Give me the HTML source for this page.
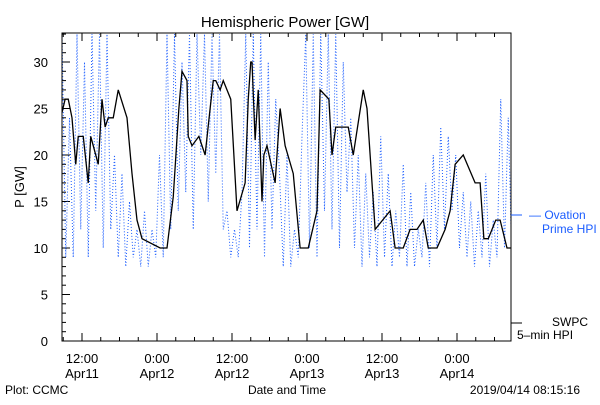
<!DOCTYPE html>
<html><head><meta charset="utf-8"><style>
body{margin:0;background:#fff}
svg text{font-family:"Liberation Sans",sans-serif}
</style></head><body>
<svg width="600" height="400" viewBox="0 0 600 400">
<defs><clipPath id="pc"><rect x="62" y="33" width="449" height="308"/></clipPath></defs>
<rect width="600" height="400" fill="#fff"/>
<text x="285" y="27" font-size="15" text-anchor="middle">Hemispheric Power [GW]</text>
<text transform="translate(24,187) rotate(-90)" font-size="13" text-anchor="middle">P [GW]</text>
<g id="axes"></g>
<g clip-path="url(#pc)"><polyline id="ovation" fill="none" stroke="#1a5cff" stroke-width="1" stroke-dasharray="1,2"/>
<polyline id="swpc" fill="none" stroke="#000" stroke-width="1.3"/></g>
<rect x="62" y="33" width="449" height="308" fill="none" stroke="#000"/>
<line x1="511" y1="215" x2="522" y2="215" stroke="#1a5cff"/>
<text x="529" y="219" font-size="12" fill="#1a5cff">— Ovation</text>
<text x="542" y="233" font-size="12" fill="#1a5cff">Prime HPI</text>
<line x1="511" y1="323" x2="522" y2="323" stroke="#000"/>
<text x="552" y="326" font-size="12">SWPC</text>
<text x="517" y="339" font-size="12">5–min HPI</text>
<text x="5" y="394" font-size="12">Plot: CCMC</text>
<text x="287" y="394" font-size="12" text-anchor="middle">Date and Time</text>
<text x="580" y="394" font-size="12" text-anchor="end">2019/04/14 08:15:16</text>
</svg>
<script>
const yTicks=[0,5,10,15,20,25,30];
const xTickHours=[12,24,36,48,60,72];
const xTickTimes=["12:00","0:00","12:00","0:00","12:00","0:00"];
const xTickDays=["Apr11","Apr12","Apr12","Apr13","Apr13","Apr14"];
const swpcHours=[8.6,9.3,9.8,10.4,11.0,11.4,12.2,13.0,13.4,14.6,15.2,15.7,16.2,17.0,17.8,19.2,20.0,20.8,21.6,24.5,25.6,26.6,27.5,28.0,28.8,29.0,29.6,30.7,31.7,32.5,33.0,33.4,34.1,34.6,35.8,36.8,38.1,38.6,39.0,39.2,39.7,40.2,40.8,41.1,41.6,42.9,43.7,44.5,45.8,46.9,48.2,49.6,50.1,51.5,52.0,52.6,54.6,55.4,57.0,57.6,58.9,61.3,62.1,63.4,64.5,65.6,66.6,67.4,68.8,70.1,70.9,71.7,73.0,74.9,75.7,76.3,77.0,78.2,78.9,80.0,80.6];
const swpcValues=[24,26,26,24,19,22,22,17,22,19,26,23,24,24,27,24,18,13,11,10,10,15.5,25,29,28,22,21,22,20,25,28,28,27,28,26,14,17,26,30,30,21.6,27,15,20,21,17,25,21,18,10,10,14,27,26,20,23,23,20,27,25,12,14,10,10,12,12,13,10,10,12,14,19,20,17,17,11,11,13,13,10,10,14,18];
const ovStartHour=8.8, ovStepHours=0.6;
const ovationValues=[33,9,24,9,33,12,30,9,33,14,33,10,33,12,
20,9,18,8,15,9,12,8,
14,8,12,9,20,9,
33,12,33,14,30,16,33,12,33,20,33,15,33,18,33,12,
14,9,12,9,16,
33,10,33,12,33,9,30,12,26,
18,8,20,8,12,9,22,
33,10,33,9,33,14,33,12,33,10,30,16,24,10,
20,8,18,9,16,8,22,9,18,8,14,9,19,8,16,8,12,9,17,8,20,
10,23,12,22,14,20,10,
16,9,15,8,14,9,18,8,
13,9,26,10,24,8];
const X=h=>82+(h-12)*6.25;
const Y=v=>341-v*9.3;
const NS="http://www.w3.org/2000/svg";
const ax=document.getElementById('axes');
function mk(tag,at){const e=document.createElementNS(NS,tag);for(const k in at)e.setAttribute(k,at[k]);ax.appendChild(e);return e;}
for(let v=0;v<=33;v++){
 const l=mk('line',{x1:62,x2:v%5===0?70:66,y1:Y(v),y2:Y(v),stroke:'#000'});
 
 
}
yTicks.forEach(v=>{const t=mk('text',{x:48,y:Y(v)+5,'font-size':13,'text-anchor':'end'});t.textContent=v;
 
 });
for(let h=9;h<=80;h+=3){
 const big=h%12===0;
 const a=mk('line',{x1:X(h),x2:X(h),y1:341,y2:big?333:337,stroke:'#000'});
 
 
 const b=mk('line',{x1:X(h),x2:X(h),y1:33,y2:big?41:37,stroke:'#000'});
 
 
}
xTickHours.forEach((h,i)=>{
 const t=mk('text',{x:X(h),y:363,'font-size':13,'text-anchor':'middle'});t.textContent=xTickTimes[i];
 
 
 const d=mk('text',{x:X(h),y:378,'font-size':13,'text-anchor':'middle'});d.textContent=xTickDays[i];
 
 
});
document.getElementById('swpc').setAttribute('points',swpcHours.map((h,i)=>X(h)+','+Y(swpcValues[i])).join(' '));
document.getElementById('ovation').setAttribute('points',ovationValues.map((v,i)=>X(ovStartHour+i*ovStepHours)+','+Y(v)).join(' '));
</script>
</body></html>
